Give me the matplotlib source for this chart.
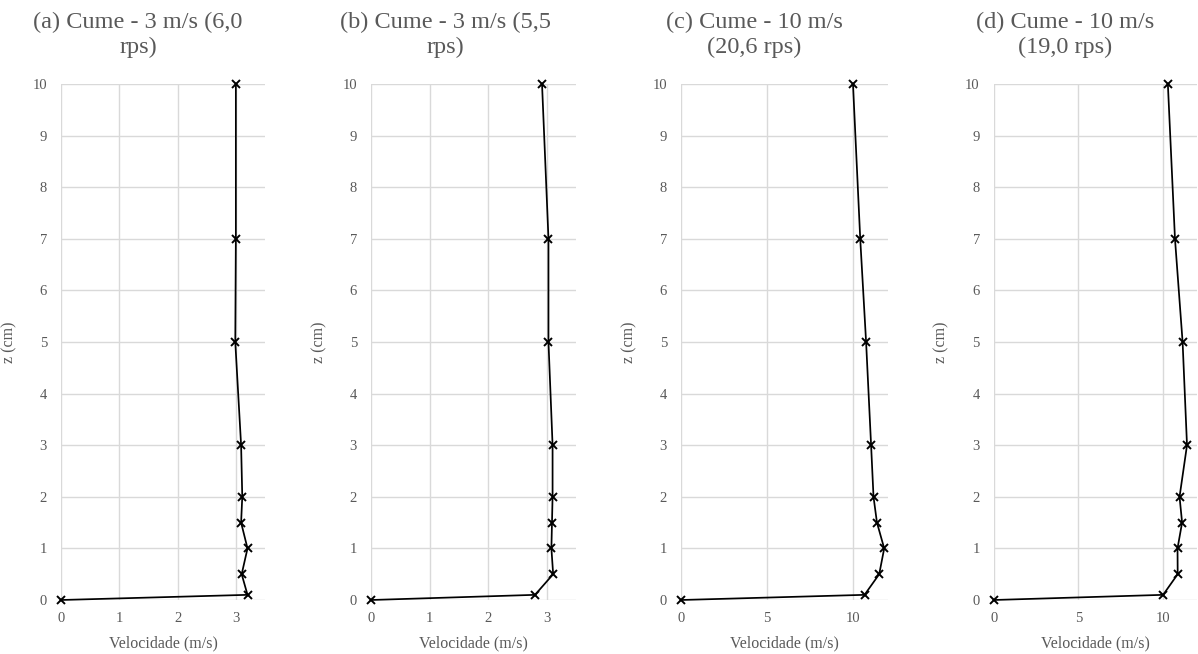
import numpy as np
import matplotlib
matplotlib.use("Agg")
import matplotlib.pyplot as plt

## Velocity profiles (z in cm, velocity in m/s)
z = [0, 0.1, 0.5, 1, 1.5, 2, 3, 5, 7, 10]
vel_a = [0, 3.20, 3.10, 3.20, 3.09, 3.11, 3.09, 2.99, 3.00, 3.00]
vel_b = [0, 2.80, 3.11, 3.08, 3.09, 3.10, 3.10, 3.03, 3.03, 2.92]
vel_c = [0, 10.64, 11.49, 11.78, 11.36, 11.16, 11.02, 10.73, 10.39, 9.97]
vel_d = [0, 10.00, 10.86, 10.85, 11.12, 10.97, 11.41, 11.15, 10.70, 10.28]

titles = [("(a) Cume - 3 m/s (6,0", "rps)"),
          ("(b) Cume - 3 m/s (5,5", "rps)"),
          ("(c) Cume - 10 m/s", "(20,6 rps)"),
          ("(d) Cume - 10 m/s", "(19,0 rps)")]
xmax = [3.5, 3.5, 12, 12]
xstep = [1, 1, 5, 5]

W, H = 1198, 654
plt.rcParams['font.family'] = ['Liberation Serif', 'DejaVu Serif']
grey = '#595959'

fig = plt.figure(figsize=(W / 100, H / 100), dpi=100)

# axes boxes in pixels: left, right
boxes = [(61, 265), (371, 576), (681, 888), (993.7, 1197)]
title_x = [138, 445, 754, 1065]
top, bottom = 84, 600

for i, vel in enumerate([vel_a, vel_b, vel_c, vel_d]):
    l, r = boxes[i]
    ax = fig.add_axes([l / W, 1 - bottom / H, (r - l) / W, (bottom - top) / H])
    ax.plot(vel, z, color='black', lw=1.25, marker='x', ms=5.5, mew=1.4, clip_on=False)
    ax.set_xlim(0, xmax[i])
    ax.set_ylim(0, 10)
    ax.set_xticks(np.arange(0, xmax[i] + 0.01, xstep[i]))
    ax.set_yticks(range(0, 11))
    ax.grid(True, color='#d9d9d9', lw=1)
    ax.set_axisbelow(True)
    for s in ax.spines.values():
        s.set_visible(False)
    ax.tick_params(length=0, labelsize=10.5, colors=grey)
    ax.tick_params(axis='y', pad=10)
    ax.tick_params(axis='x', pad=9)
    ax.set_xlabel("Velocidade (m/s)", fontsize=11.5, color=grey)
    ax.xaxis.set_label_coords(0.5, -0.068)
    ax.set_ylabel("z (cm)", fontsize=11.5, color=grey)
    ax.yaxis.set_label_coords(-44 / (r - l), 0.5)

    fig.text(title_x[i] / W, 1 - 22 / H, titles[i][0], ha='center', va='center',
             fontsize=17.5, color=grey)
    fig.text(title_x[i] / W, 1 - 47 / H, titles[i][1], ha='center', va='center',
             fontsize=17.5, color=grey)

fig.savefig("out.png", dpi=100)
